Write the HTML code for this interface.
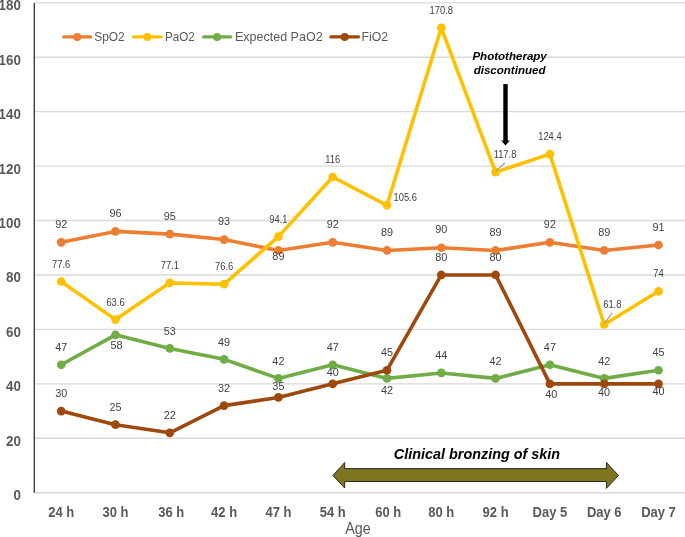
<!DOCTYPE html>
<html><head><meta charset="utf-8"><style>
*{margin:0;padding:0}
html,body{width:685px;height:537px;overflow:hidden;background:#fff}
svg{display:block;will-change:transform}
text{font-family:"Liberation Sans",sans-serif}
.yl{font-size:14.7px;font-weight:bold;fill:#595959}
.xl{font-size:14.2px;font-weight:bold;fill:#595959}
.age{font-size:16px;fill:#595959}
.dl{font-size:11.3px;fill:#404040}
.dls{font-size:10.0px;fill:#404040}
.lg{font-size:12.8px;fill:#595959}
.ann{font-size:11.55px;font-weight:bold;font-style:italic;fill:#000}
.ann2{font-size:14.4px;font-weight:bold;font-style:italic;fill:#000}
</style></head>
<body>
<svg width="685" height="537" viewBox="0 0 685 537">
<rect width="685" height="537" fill="#fff"/>
<line x1="34" y1="492.70" x2="685" y2="492.70" stroke="#D9D9D9" stroke-width="1.35"/>
<line x1="34" y1="438.27" x2="685" y2="438.27" stroke="#D9D9D9" stroke-width="1.35"/>
<line x1="34" y1="383.83" x2="685" y2="383.83" stroke="#D9D9D9" stroke-width="1.35"/>
<line x1="34" y1="329.40" x2="685" y2="329.40" stroke="#D9D9D9" stroke-width="1.35"/>
<line x1="34" y1="274.97" x2="685" y2="274.97" stroke="#D9D9D9" stroke-width="1.35"/>
<line x1="34" y1="220.53" x2="685" y2="220.53" stroke="#D9D9D9" stroke-width="1.35"/>
<line x1="34" y1="166.10" x2="685" y2="166.10" stroke="#D9D9D9" stroke-width="1.35"/>
<line x1="34" y1="111.67" x2="685" y2="111.67" stroke="#D9D9D9" stroke-width="1.35"/>
<line x1="34" y1="57.23" x2="685" y2="57.23" stroke="#D9D9D9" stroke-width="1.35"/>
<line x1="34" y1="2.80" x2="685" y2="2.80" stroke="#D9D9D9" stroke-width="1.35"/>
<line x1="34.3" y1="3" x2="34.3" y2="492.70" stroke="#404040" stroke-width="1.4"/>
<text transform="translate(20.90 500.16) scale(0.91 1)" text-anchor="end" class="yl">0</text>
<text transform="translate(20.90 445.73) scale(0.91 1)" text-anchor="end" class="yl">20</text>
<text transform="translate(20.90 391.30) scale(0.91 1)" text-anchor="end" class="yl">40</text>
<text transform="translate(20.90 336.86) scale(0.91 1)" text-anchor="end" class="yl">60</text>
<text transform="translate(20.90 282.43) scale(0.91 1)" text-anchor="end" class="yl">80</text>
<text transform="translate(20.90 228.00) scale(0.91 1)" text-anchor="end" class="yl">100</text>
<text transform="translate(20.90 173.56) scale(0.91 1)" text-anchor="end" class="yl">120</text>
<text transform="translate(20.90 119.13) scale(0.91 1)" text-anchor="end" class="yl">140</text>
<text transform="translate(20.90 64.70) scale(0.91 1)" text-anchor="end" class="yl">160</text>
<text transform="translate(20.90 10.26) scale(0.91 1)" text-anchor="end" class="yl">180</text>
<text transform="translate(61.20 517.10) scale(0.915 1)" text-anchor="middle" class="xl">24 h</text>
<text transform="translate(115.50 517.10) scale(0.915 1)" text-anchor="middle" class="xl">30 h</text>
<text transform="translate(171.30 517.10) scale(0.915 1)" text-anchor="middle" class="xl">36 h</text>
<text transform="translate(224.10 517.10) scale(0.915 1)" text-anchor="middle" class="xl">42 h</text>
<text transform="translate(278.40 517.10) scale(0.915 1)" text-anchor="middle" class="xl">47 h</text>
<text transform="translate(332.70 517.10) scale(0.915 1)" text-anchor="middle" class="xl">54 h</text>
<text transform="translate(388.30 517.10) scale(0.915 1)" text-anchor="middle" class="xl">60 h</text>
<text transform="translate(441.30 517.10) scale(0.915 1)" text-anchor="middle" class="xl">80 h</text>
<text transform="translate(495.60 517.10) scale(0.915 1)" text-anchor="middle" class="xl">92 h</text>
<text transform="translate(549.90 517.10) scale(0.915 1)" text-anchor="middle" class="xl">Day 5</text>
<text transform="translate(604.20 517.10) scale(0.915 1)" text-anchor="middle" class="xl">Day 6</text>
<text transform="translate(658.50 517.10) scale(0.915 1)" text-anchor="middle" class="xl">Day 7</text>
<text transform="translate(358.00 533.90) scale(0.9 1)" text-anchor="middle" class="age">Age</text>
<polyline points="61.20,242.31 115.50,231.42 169.80,234.14 224.10,239.58 278.40,250.47 332.70,242.31 387.00,250.47 441.30,247.75 495.60,250.47 549.90,242.31 604.20,250.47 658.50,245.03" fill="none" stroke="#ED7D31" stroke-width="3.6" stroke-linejoin="round" stroke-linecap="round"/>
<circle cx="61.20" cy="242.31" r="4.35" fill="#ED7D31"/>
<circle cx="115.50" cy="231.42" r="4.35" fill="#ED7D31"/>
<circle cx="169.80" cy="234.14" r="4.35" fill="#ED7D31"/>
<circle cx="224.10" cy="239.58" r="4.35" fill="#ED7D31"/>
<circle cx="278.40" cy="250.47" r="4.35" fill="#ED7D31"/>
<circle cx="332.70" cy="242.31" r="4.35" fill="#ED7D31"/>
<circle cx="387.00" cy="250.47" r="4.35" fill="#ED7D31"/>
<circle cx="441.30" cy="247.75" r="4.35" fill="#ED7D31"/>
<circle cx="495.60" cy="250.47" r="4.35" fill="#ED7D31"/>
<circle cx="549.90" cy="242.31" r="4.35" fill="#ED7D31"/>
<circle cx="604.20" cy="250.47" r="4.35" fill="#ED7D31"/>
<circle cx="658.50" cy="245.03" r="4.35" fill="#ED7D31"/>
<polyline points="61.20,281.50 115.50,319.60 169.80,282.86 224.10,284.22 278.40,236.59 332.70,176.99 387.00,205.29 441.30,27.84 495.60,172.09 549.90,154.12 604.20,324.50 658.50,291.30" fill="none" stroke="#FFC000" stroke-width="3.6" stroke-linejoin="round" stroke-linecap="round"/>
<circle cx="61.20" cy="281.50" r="4.35" fill="#FFC000"/>
<circle cx="115.50" cy="319.60" r="4.35" fill="#FFC000"/>
<circle cx="169.80" cy="282.86" r="4.35" fill="#FFC000"/>
<circle cx="224.10" cy="284.22" r="4.35" fill="#FFC000"/>
<circle cx="278.40" cy="236.59" r="4.35" fill="#FFC000"/>
<circle cx="332.70" cy="176.99" r="4.35" fill="#FFC000"/>
<circle cx="387.00" cy="205.29" r="4.35" fill="#FFC000"/>
<circle cx="441.30" cy="27.84" r="4.35" fill="#FFC000"/>
<circle cx="495.60" cy="172.09" r="4.35" fill="#FFC000"/>
<circle cx="549.90" cy="154.12" r="4.35" fill="#FFC000"/>
<circle cx="604.20" cy="324.50" r="4.35" fill="#FFC000"/>
<circle cx="658.50" cy="291.30" r="4.35" fill="#FFC000"/>
<polyline points="61.20,364.78 115.50,334.84 169.80,348.45 224.10,359.34 278.40,378.39 332.70,364.78 387.00,378.39 441.30,372.95 495.60,378.39 549.90,364.78 604.20,378.39 658.50,370.23" fill="none" stroke="#70AD47" stroke-width="3.6" stroke-linejoin="round" stroke-linecap="round"/>
<circle cx="61.20" cy="364.78" r="4.35" fill="#70AD47"/>
<circle cx="115.50" cy="334.84" r="4.35" fill="#70AD47"/>
<circle cx="169.80" cy="348.45" r="4.35" fill="#70AD47"/>
<circle cx="224.10" cy="359.34" r="4.35" fill="#70AD47"/>
<circle cx="278.40" cy="378.39" r="4.35" fill="#70AD47"/>
<circle cx="332.70" cy="364.78" r="4.35" fill="#70AD47"/>
<circle cx="387.00" cy="378.39" r="4.35" fill="#70AD47"/>
<circle cx="441.30" cy="372.95" r="4.35" fill="#70AD47"/>
<circle cx="495.60" cy="378.39" r="4.35" fill="#70AD47"/>
<circle cx="549.90" cy="364.78" r="4.35" fill="#70AD47"/>
<circle cx="604.20" cy="378.39" r="4.35" fill="#70AD47"/>
<circle cx="658.50" cy="370.23" r="4.35" fill="#70AD47"/>
<polyline points="61.20,411.05 115.50,424.66 169.80,432.82 224.10,405.61 278.40,397.44 332.70,383.83 387.00,370.23 441.30,274.97 495.60,274.97 549.90,383.83 604.20,383.83 658.50,383.83" fill="none" stroke="#9E480E" stroke-width="3.6" stroke-linejoin="round" stroke-linecap="round"/>
<circle cx="61.20" cy="411.05" r="4.35" fill="#9E480E"/>
<circle cx="115.50" cy="424.66" r="4.35" fill="#9E480E"/>
<circle cx="169.80" cy="432.82" r="4.35" fill="#9E480E"/>
<circle cx="224.10" cy="405.61" r="4.35" fill="#9E480E"/>
<circle cx="278.40" cy="397.44" r="4.35" fill="#9E480E"/>
<circle cx="332.70" cy="383.83" r="4.35" fill="#9E480E"/>
<circle cx="387.00" cy="370.23" r="4.35" fill="#9E480E"/>
<circle cx="441.30" cy="274.97" r="4.35" fill="#9E480E"/>
<circle cx="495.60" cy="274.97" r="4.35" fill="#9E480E"/>
<circle cx="549.90" cy="383.83" r="4.35" fill="#9E480E"/>
<circle cx="604.20" cy="383.83" r="4.35" fill="#9E480E"/>
<circle cx="658.50" cy="383.83" r="4.35" fill="#9E480E"/>
<line x1="495.5" y1="171.3" x2="504.8" y2="163.0" stroke="#959595" stroke-width="1.05"/>
<line x1="604.3" y1="323.8" x2="612.2" y2="312.9" stroke="#959595" stroke-width="1.05"/>
<text transform="translate(61.20 227.95) scale(0.96 1)" text-anchor="middle" class="dl">92</text>
<text transform="translate(115.50 217.07) scale(0.96 1)" text-anchor="middle" class="dl">96</text>
<text transform="translate(169.80 219.79) scale(0.96 1)" text-anchor="middle" class="dl">95</text>
<text transform="translate(224.10 225.23) scale(0.96 1)" text-anchor="middle" class="dl">93</text>
<text transform="translate(278.40 259.92) scale(0.96 1)" text-anchor="middle" class="dl">89</text>
<text transform="translate(332.70 227.95) scale(0.96 1)" text-anchor="middle" class="dl">92</text>
<text transform="translate(387.00 236.12) scale(0.96 1)" text-anchor="middle" class="dl">89</text>
<text transform="translate(441.30 233.40) scale(0.96 1)" text-anchor="middle" class="dl">90</text>
<text transform="translate(495.60 236.12) scale(0.96 1)" text-anchor="middle" class="dl">89</text>
<text transform="translate(549.90 227.95) scale(0.96 1)" text-anchor="middle" class="dl">92</text>
<text transform="translate(604.20 236.12) scale(0.96 1)" text-anchor="middle" class="dl">89</text>
<text transform="translate(658.50 230.67) scale(0.96 1)" text-anchor="middle" class="dl">91</text>
<text transform="translate(61.20 267.68) scale(0.935 1)" text-anchor="middle" class="dls">77.6</text>
<text transform="translate(115.50 305.78) scale(0.935 1)" text-anchor="middle" class="dls">63.6</text>
<text transform="translate(169.80 269.04) scale(0.935 1)" text-anchor="middle" class="dls">77.1</text>
<text transform="translate(224.10 270.40) scale(0.935 1)" text-anchor="middle" class="dls">76.6</text>
<text transform="translate(278.40 222.77) scale(0.935 1)" text-anchor="middle" class="dls">94.1</text>
<text transform="translate(332.70 163.17) scale(0.935 1)" text-anchor="middle" class="dls">116</text>
<text transform="translate(405.20 201.07) scale(0.935 1)" text-anchor="middle" class="dls">105.6</text>
<text transform="translate(441.30 14.02) scale(0.935 1)" text-anchor="middle" class="dls">170.8</text>
<text transform="translate(505.00 158.17) scale(0.935 1)" text-anchor="middle" class="dls">117.8</text>
<text transform="translate(549.90 140.30) scale(0.935 1)" text-anchor="middle" class="dls">124.4</text>
<text transform="translate(612.30 307.58) scale(0.935 1)" text-anchor="middle" class="dls">61.8</text>
<text transform="translate(658.50 277.48) scale(0.935 1)" text-anchor="middle" class="dls">74</text>
<text transform="translate(61.20 351.03) scale(0.96 1)" text-anchor="middle" class="dl">47</text>
<text transform="translate(116.50 348.89) scale(0.96 1)" text-anchor="middle" class="dl">58</text>
<text transform="translate(169.80 334.70) scale(0.96 1)" text-anchor="middle" class="dl">53</text>
<text transform="translate(224.10 345.58) scale(0.96 1)" text-anchor="middle" class="dl">49</text>
<text transform="translate(278.40 364.64) scale(0.96 1)" text-anchor="middle" class="dl">42</text>
<text transform="translate(332.70 351.03) scale(0.96 1)" text-anchor="middle" class="dl">47</text>
<text transform="translate(387.00 394.14) scale(0.96 1)" text-anchor="middle" class="dl">42</text>
<text transform="translate(441.30 359.19) scale(0.96 1)" text-anchor="middle" class="dl">44</text>
<text transform="translate(495.60 364.64) scale(0.96 1)" text-anchor="middle" class="dl">42</text>
<text transform="translate(549.90 351.03) scale(0.96 1)" text-anchor="middle" class="dl">47</text>
<text transform="translate(604.20 364.64) scale(0.96 1)" text-anchor="middle" class="dl">42</text>
<text transform="translate(658.50 356.47) scale(0.96 1)" text-anchor="middle" class="dl">45</text>
<text transform="translate(61.20 397.30) scale(0.96 1)" text-anchor="middle" class="dl">30</text>
<text transform="translate(115.50 410.90) scale(0.96 1)" text-anchor="middle" class="dl">25</text>
<text transform="translate(169.80 419.07) scale(0.96 1)" text-anchor="middle" class="dl">22</text>
<text transform="translate(224.10 391.85) scale(0.96 1)" text-anchor="middle" class="dl">32</text>
<text transform="translate(278.40 389.99) scale(0.96 1)" text-anchor="middle" class="dl">35</text>
<text transform="translate(332.70 376.08) scale(0.96 1)" text-anchor="middle" class="dl">40</text>
<text transform="translate(387.00 356.47) scale(0.96 1)" text-anchor="middle" class="dl">45</text>
<text transform="translate(441.30 261.21) scale(0.96 1)" text-anchor="middle" class="dl">80</text>
<text transform="translate(495.60 261.21) scale(0.96 1)" text-anchor="middle" class="dl">80</text>
<text transform="translate(551.20 398.08) scale(0.96 1)" text-anchor="middle" class="dl">40</text>
<text transform="translate(604.00 396.38) scale(0.96 1)" text-anchor="middle" class="dl">40</text>
<text transform="translate(658.60 395.08) scale(0.96 1)" text-anchor="middle" class="dl">40</text>
<line x1="63.900000000000006" y1="36.9" x2="90.5" y2="36.9" stroke="#ED7D31" stroke-width="3.4" stroke-linecap="round"/>
<circle cx="77.20" cy="36.9" r="4.0" fill="#ED7D31"/>
<text x="94.2" y="41.0" class="lg" textLength="30.6" lengthAdjust="spacingAndGlyphs">SpO2</text>
<line x1="133.7" y1="36.9" x2="161.0" y2="36.9" stroke="#FFC000" stroke-width="3.4" stroke-linecap="round"/>
<circle cx="147.35" cy="36.9" r="4.0" fill="#FFC000"/>
<text x="165.0" y="41.0" class="lg" textLength="29.8" lengthAdjust="spacingAndGlyphs">PaO2</text>
<line x1="203.7" y1="36.9" x2="230.5" y2="36.9" stroke="#70AD47" stroke-width="3.4" stroke-linecap="round"/>
<circle cx="217.10" cy="36.9" r="4.0" fill="#70AD47"/>
<text x="235.0" y="41.0" class="lg" textLength="87.6" lengthAdjust="spacingAndGlyphs">Expected PaO2</text>
<line x1="331.0" y1="36.9" x2="358.40000000000003" y2="36.9" stroke="#9E480E" stroke-width="3.4" stroke-linecap="round"/>
<circle cx="344.70" cy="36.9" r="4.0" fill="#9E480E"/>
<text x="361.6" y="41.0" class="lg" textLength="26.4" lengthAdjust="spacingAndGlyphs">FiO2</text>
<text x="509.6" y="60.2" text-anchor="middle" class="ann">Phototherapy</text>
<text x="509.6" y="73.9" text-anchor="middle" class="ann">discontinued</text>
<rect x="503.3" y="84.1" width="4.4" height="57" fill="#000"/>
<polygon points="501.2,140.6 509.8,140.6 505.5,145.5" fill="#000"/>
<polygon points="332.9,475.5 344.7,462.5 344.7,468.6 606.4,468.6 606.4,462.4 618.5,475.5 606.4,488.4 606.4,481.5 344.7,481.5 344.7,488.0" fill="#7F7420" stroke="#1a1a1a" stroke-width="0.9"/>
<text x="477" y="459.4" text-anchor="middle" class="ann2">Clinical bronzing of skin</text>
</svg>
</body></html>
